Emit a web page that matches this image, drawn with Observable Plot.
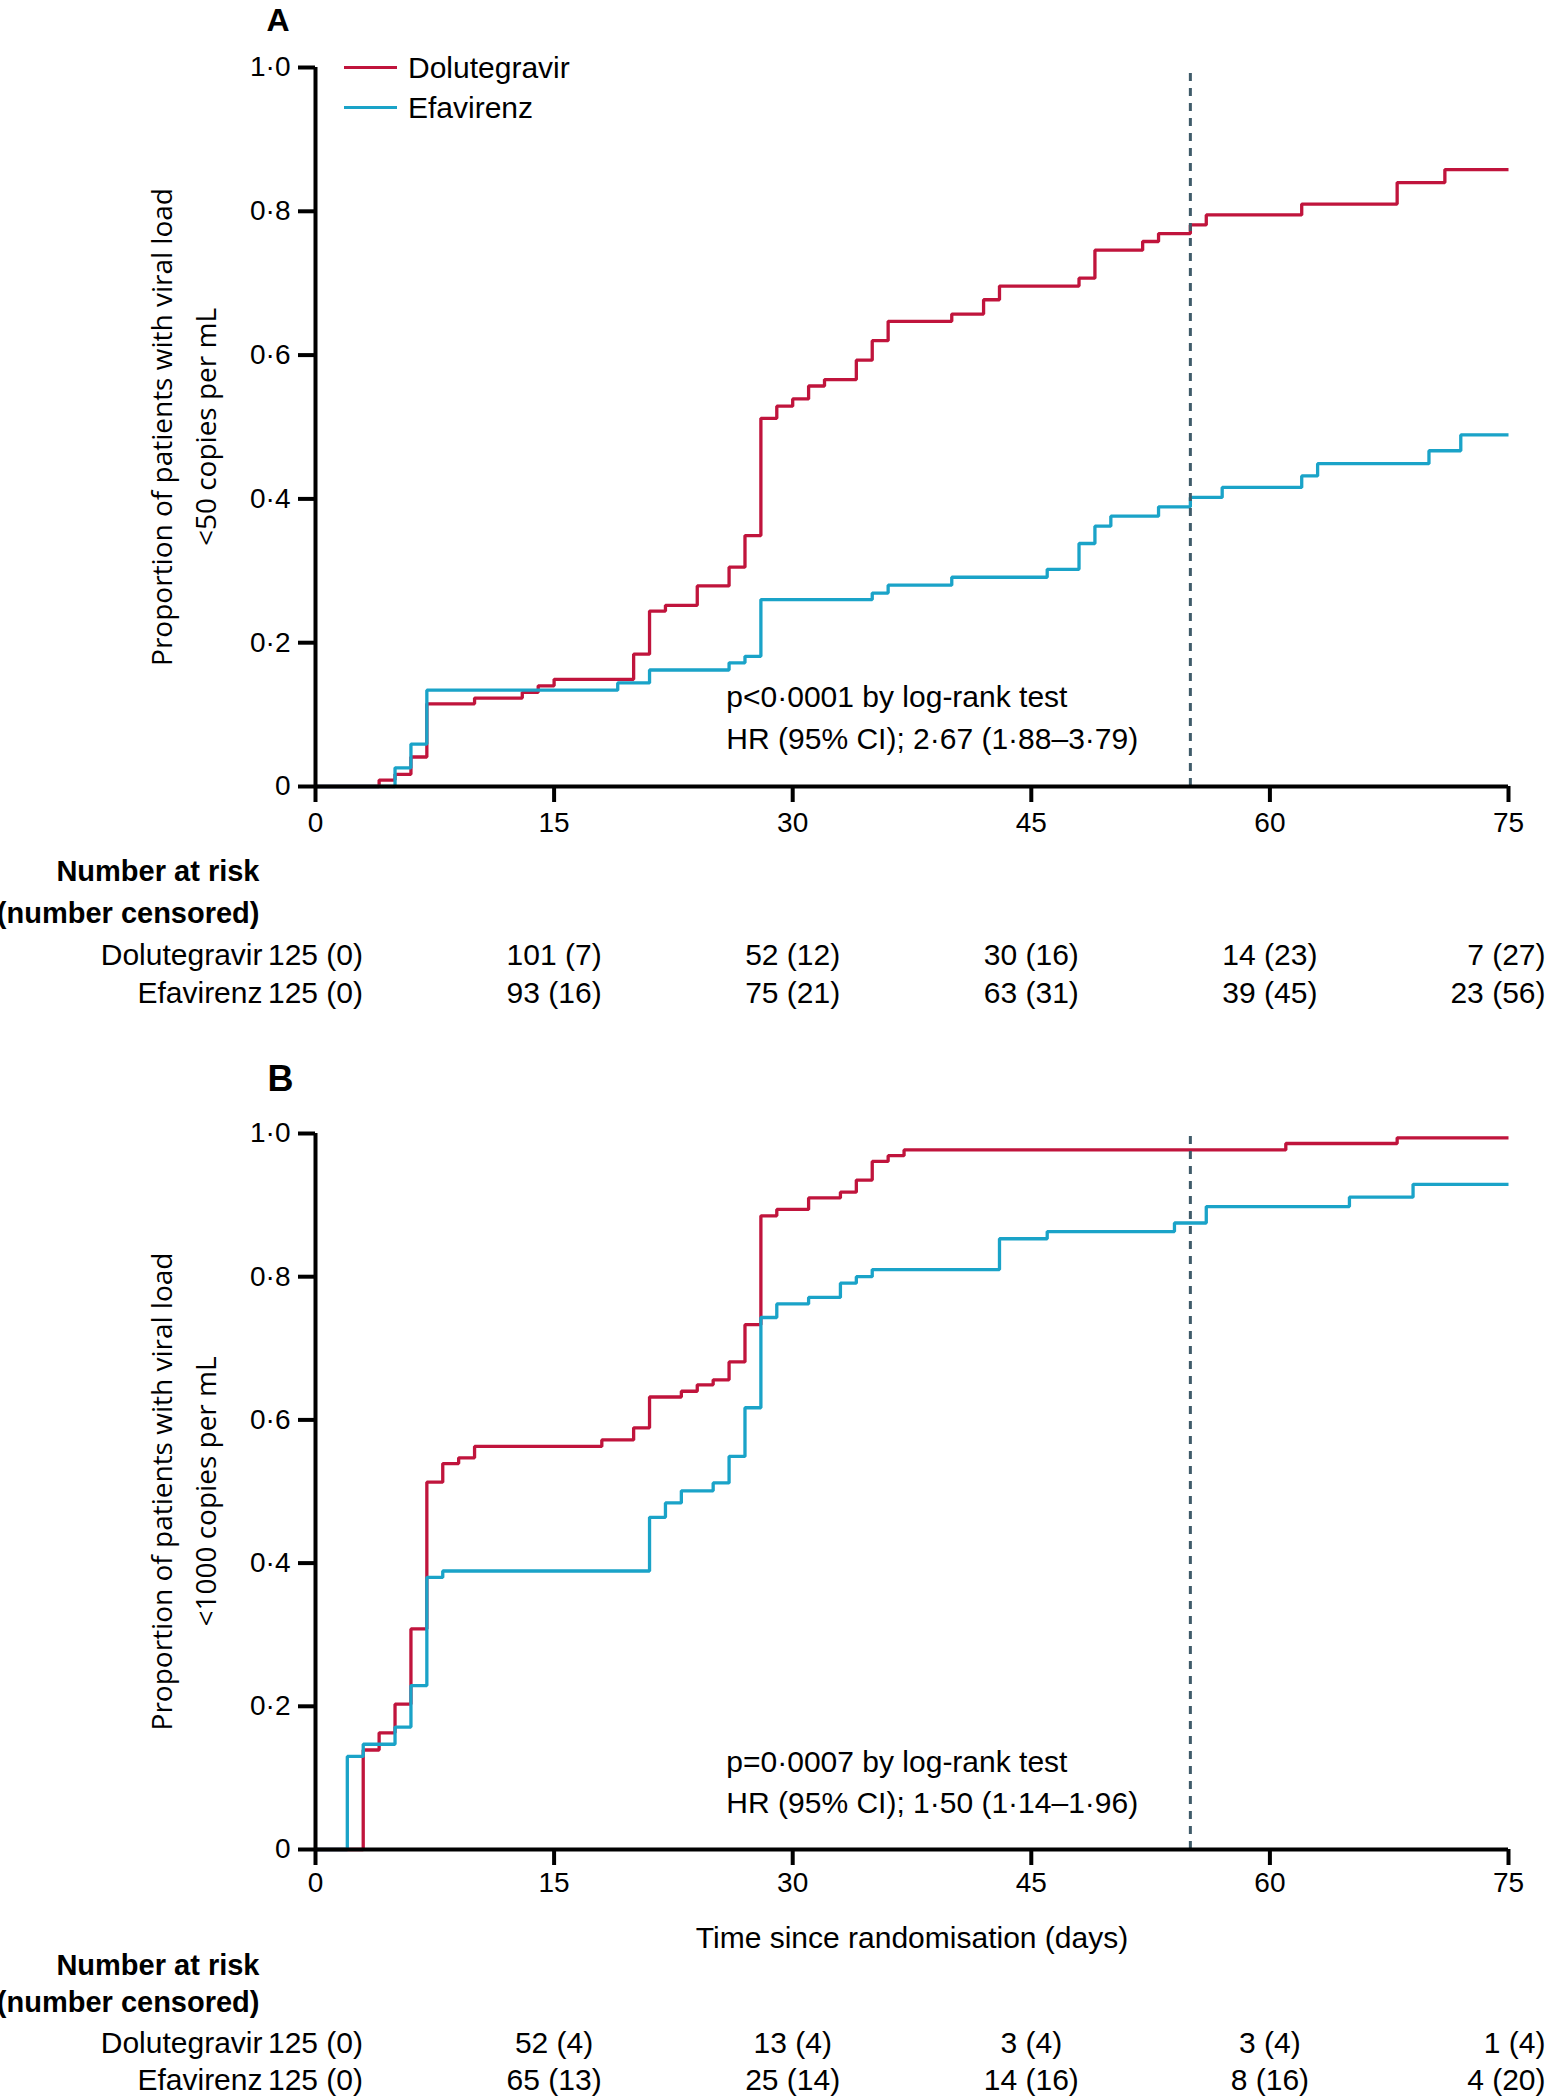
<!DOCTYPE html>
<html>
<head>
<meta charset="utf-8">
<script src="https://cdn.jsdelivr.net/npm/d3@7"></script>
<script src="https://cdn.jsdelivr.net/npm/@observablehq/plot@0.6"></script>
<style>
  html, body { margin: 0; padding: 0; background: #fff; overflow: hidden; }
  #wrap { position: relative; width: 1548px; height: 2100px; font-family: 'Liberation Sans', Arial, sans-serif; }
  #wrap svg { display: block; }
  .legend-item { position: absolute; left: 344px; height: 30px; display: flex; align-items: center; white-space: nowrap; font-size: 30px; color: #000; }
  .legend-item .sw { display: inline-block; width: 53px; height: 3px; margin-right: 11px; }
</style>
</head>
<body>
<div id="wrap"></div>
<script>
// ---------- data ----------
const seriesNames = ["Dolutegravir", "Efavirenz"];
const seriesColors = ["#c0143c", "#1aa3c8"];
const xTicks = [0, 15, 30, 45, 60, 75];
const yTicks = [0, 0.2, 0.4, 0.6, 0.8, 1.0];
const landmarkDay = 55;

// Panel A: viral load <50 copies per mL
const aDolTimes  = [0, 4, 5, 6, 7, 10, 13, 14, 15, 20, 21, 22, 24, 26, 27, 28, 29, 30, 31, 32, 34, 35, 36, 40, 42, 43, 48, 49, 52, 53, 55, 56, 62, 68, 71, 75];
const aDolValues = [0, 0.009, 0.017, 0.041, 0.115, 0.123, 0.131, 0.140, 0.149, 0.184, 0.244, 0.252, 0.279, 0.305, 0.349, 0.512, 0.529, 0.539, 0.557, 0.566, 0.593, 0.620, 0.647, 0.657, 0.677, 0.696, 0.707, 0.746, 0.758, 0.769, 0.781, 0.795, 0.810, 0.840, 0.858, 0.858];
const aEfaTimes  = [0, 5, 6, 7, 19, 21, 26, 27, 28, 35, 36, 40, 46, 48, 49, 50, 53, 55, 57, 62, 63, 70, 72, 75];
const aEfaValues = [0, 0.026, 0.059, 0.134, 0.144, 0.162, 0.172, 0.181, 0.260, 0.269, 0.280, 0.291, 0.302, 0.338, 0.362, 0.376, 0.389, 0.402, 0.416, 0.432, 0.449, 0.467, 0.489, 0.489];
const aDolRisk = ["125 (0)", "101 (7)", "52 (12)", "30 (16)", "14 (23)", "7 (27)"];
const aEfaRisk = ["125 (0)", "93 (16)", "75 (21)", "63 (31)", "39 (45)", "23 (56)"];
const aStats = ["p<0·0001 by log-rank test", "HR (95% CI); 2·67 (1·88–3·79)"];
const aYLabel = ["Proportion of patients with viral load", "<50 copies per mL"];

// Panel B: viral load <1000 copies per mL
const bDolTimes  = [0, 3, 4, 5, 6, 7, 8, 9, 10, 18, 20, 21, 23, 24, 25, 26, 27, 28, 29, 31, 33, 34, 35, 36, 37, 61, 68, 75];
const bDolValues = [0, 0.139, 0.163, 0.203, 0.308, 0.513, 0.539, 0.547, 0.563, 0.572, 0.589, 0.632, 0.640, 0.649, 0.656, 0.681, 0.733, 0.885, 0.894, 0.910, 0.918, 0.935, 0.961, 0.969, 0.977, 0.986, 0.994, 0.994];
const bEfaTimes  = [0, 2, 3, 5, 6, 7, 8, 21, 22, 23, 25, 26, 27, 28, 29, 31, 33, 34, 35, 43, 46, 54, 56, 65, 69, 75];
const bEfaValues = [0, 0.130, 0.147, 0.171, 0.229, 0.380, 0.389, 0.464, 0.484, 0.501, 0.512, 0.549, 0.617, 0.743, 0.762, 0.771, 0.791, 0.800, 0.810, 0.853, 0.863, 0.875, 0.898, 0.911, 0.929, 0.929];
const bDolRisk = ["125 (0)", "52 (4)", "13 (4)", "3 (4)", "3 (4)", "1 (4)"];
const bEfaRisk = ["125 (0)", "65 (13)", "25 (14)", "14 (16)", "8 (16)", "4 (20)"];
const bStats = ["p=0·0007 by log-rank test", "HR (95% CI); 1·50 (1·14–1·96)"];
const bYLabel = ["Proportion of patients with viral load", "<1000 copies per mL"];

const xAxisTitle = "Time since randomisation (days)";
const riskTitle = ["Number at risk", "(number censored)"];

// ---------- helpers ----------
const steps = (times, values) => times.map((t, i) => ({t, v: values[i]}));
const fmtY = d => d === 0 ? "0" : d.toFixed(1).replace(".", "·");
const FONT = "'Liberation Sans', Arial, sans-serif";
const xMax = xTicks[xTicks.length - 1];

function panel(cfg) {
  const curves = [steps(cfg.dolT, cfg.dolV), steps(cfg.efaT, cfg.efaV)];
  const textOpts = {fontSize: 30, fontFamily: FONT, fill: "#000"};
  const riskRows = [cfg.dolRisk, cfg.efaRisk].map(arr => xTicks.map((t, j) => ({t, label: arr[j]})));
  const marks = [
    ...curves.map((c, i) => Plot.line(c, {
      x: "t", y: "v", curve: "step-after", stroke: seriesColors[i],
      strokeWidth: 3.3, strokeLinejoin: "miter", strokeLinecap: "butt"
    })),
    Plot.ruleX([landmarkDay], {y1: 0, y2: 1, stroke: "#3f5b69", strokeWidth: 3, strokeDasharray: "8,7"}),
    Plot.ruleY([0], {x1: 0, x2: 75, stroke: "#000", strokeWidth: 4}),
    Plot.ruleX([0], {y1: 0, y2: 1, stroke: "#000", strokeWidth: 4}),
    Plot.axisX({ticks: xTicks, tickSize: 16, tickPadding: cfg.xTickPadding, tickFormat: d => String(d),
      fontSize: 28, strokeWidth: 4, label: null}),
    Plot.axisY({ticks: yTicks, tickSize: 17, tickPadding: 8, tickFormat: fmtY,
      fontSize: 28, strokeWidth: 4, label: null}),
    // y axis title (two lines)
    ...cfg.yLabel.map((s, i) => Plot.text([s], {
      text: d => d, frameAnchor: "left", rotate: -90, dx: i === 0 ? -152 : -108,
      textAnchor: "middle", lineAnchor: "middle", fontFamily: "'Open Sans', sans-serif", fontSize: 28, fill: "#000"
    })),
    // panel letter
    Plot.text([cfg.letter], {
      text: d => d, frameAnchor: "top-left", dx: cfg.letterDx, dy: cfg.letterDy,
      textAnchor: "middle", lineAnchor: "middle", fontWeight: "bold", fontSize: cfg.letterSize, fontFamily: FONT
    }),
    // statistics annotation
    ...cfg.stats.map((s, i) => Plot.text([s], {
      text: d => d, x: () => cfg.statX, y: () => cfg.statY[i],
      textAnchor: "start", lineAnchor: "middle", ...textOpts
    })),
    // number at risk table
    Plot.text([riskTitle[0]], {text: d => d, frameAnchor: "bottom-left", dx: -56, dy: cfg.rows[0],
      textAnchor: "end", lineAnchor: "middle", fontWeight: "bold", fontSize: 29, fontFamily: FONT}),
    Plot.text([riskTitle[1]], {text: d => d, frameAnchor: "bottom-left", dx: -56, dy: cfg.rows[1],
      textAnchor: "end", lineAnchor: "middle", fontWeight: "bold", fontSize: 29, fontFamily: FONT}),
    ...seriesNames.map((name, i) => Plot.text([name], {
      text: d => d, frameAnchor: "bottom-left", dx: -53, dy: cfg.rows[2 + i],
      textAnchor: "end", lineAnchor: "middle", ...textOpts
    })),
    ...riskRows.map((rows, i) => Plot.text(rows.filter(r => r.t !== xMax), {
      x: "t", text: "label", frameAnchor: "bottom", dy: cfg.rows[2 + i],
      textAnchor: "middle", lineAnchor: "middle", ...textOpts
    })),
    ...riskRows.map((rows, i) => Plot.text(rows.filter(r => r.t === xMax), {
      x: "t", text: "label", frameAnchor: "bottom", dy: cfg.rows[2 + i], dx: 37,
      textAnchor: "end", lineAnchor: "middle", ...textOpts
    }))
  ];
  if (cfg.xTitle) {
    marks.push(Plot.text([cfg.xTitle], {text: d => d, frameAnchor: "bottom", dy: cfg.xTitleDy,
      textAnchor: "middle", lineAnchor: "middle", ...textOpts}));
  }
  return Plot.plot({
    width: 1548,
    height: cfg.height,
    marginTop: cfg.marginTop,
    marginBottom: cfg.marginBottom,
    marginLeft: 315,
    marginRight: 40,
    x: {domain: [0, 75]},
    y: {domain: [0, 1]},
    style: {fontFamily: FONT, fontSize: "30px", background: "white", color: "#000", overflow: "visible"},
    marks
  });
}

const wrap = document.getElementById("wrap");

wrap.appendChild(panel({
  letter: "A", letterDx: -37.5, letterDy: -47, letterSize: 32,
  yLabel: aYLabel, dolT: aDolTimes, dolV: aDolValues, efaT: aEfaTimes, efaV: aEfaValues,
  dolRisk: aDolRisk, efaRisk: aEfaRisk, stats: aStats, statX: 25.83, statY: [0.124, 0.066],
  height: 1040, marginTop: 67, marginBottom: 254, xTickPadding: 10,
  rows: [85, 127, 169, 207]
}));

wrap.appendChild(panel({
  letter: "B", letterDx: -35, letterDy: -54, letterSize: 36,
  yLabel: bYLabel, dolT: bDolTimes, dolV: bDolValues, efaT: bEfaTimes, efaV: bEfaValues,
  dolRisk: bDolRisk, efaRisk: bEfaRisk, stats: bStats, statX: 25.83, statY: [0.122, 0.065],
  height: 1060, marginTop: 93, marginBottom: 251, xTickPadding: 7,
  rows: [116, 153, 194, 231], xTitle: xAxisTitle, xTitleDy: 89
}));

// legend (overlay on panel A, top-left of plotting area)
seriesNames.forEach((name, i) => {
  const item = document.createElement("div");
  item.className = "legend-item";
  item.style.top = (52.7 + 40 * i) + "px";
  const sw = document.createElement("span");
  sw.className = "sw";
  sw.style.background = seriesColors[i];
  item.appendChild(sw);
  item.appendChild(document.createTextNode(name));
  wrap.appendChild(item);
});
</script>
</body>
</html>
